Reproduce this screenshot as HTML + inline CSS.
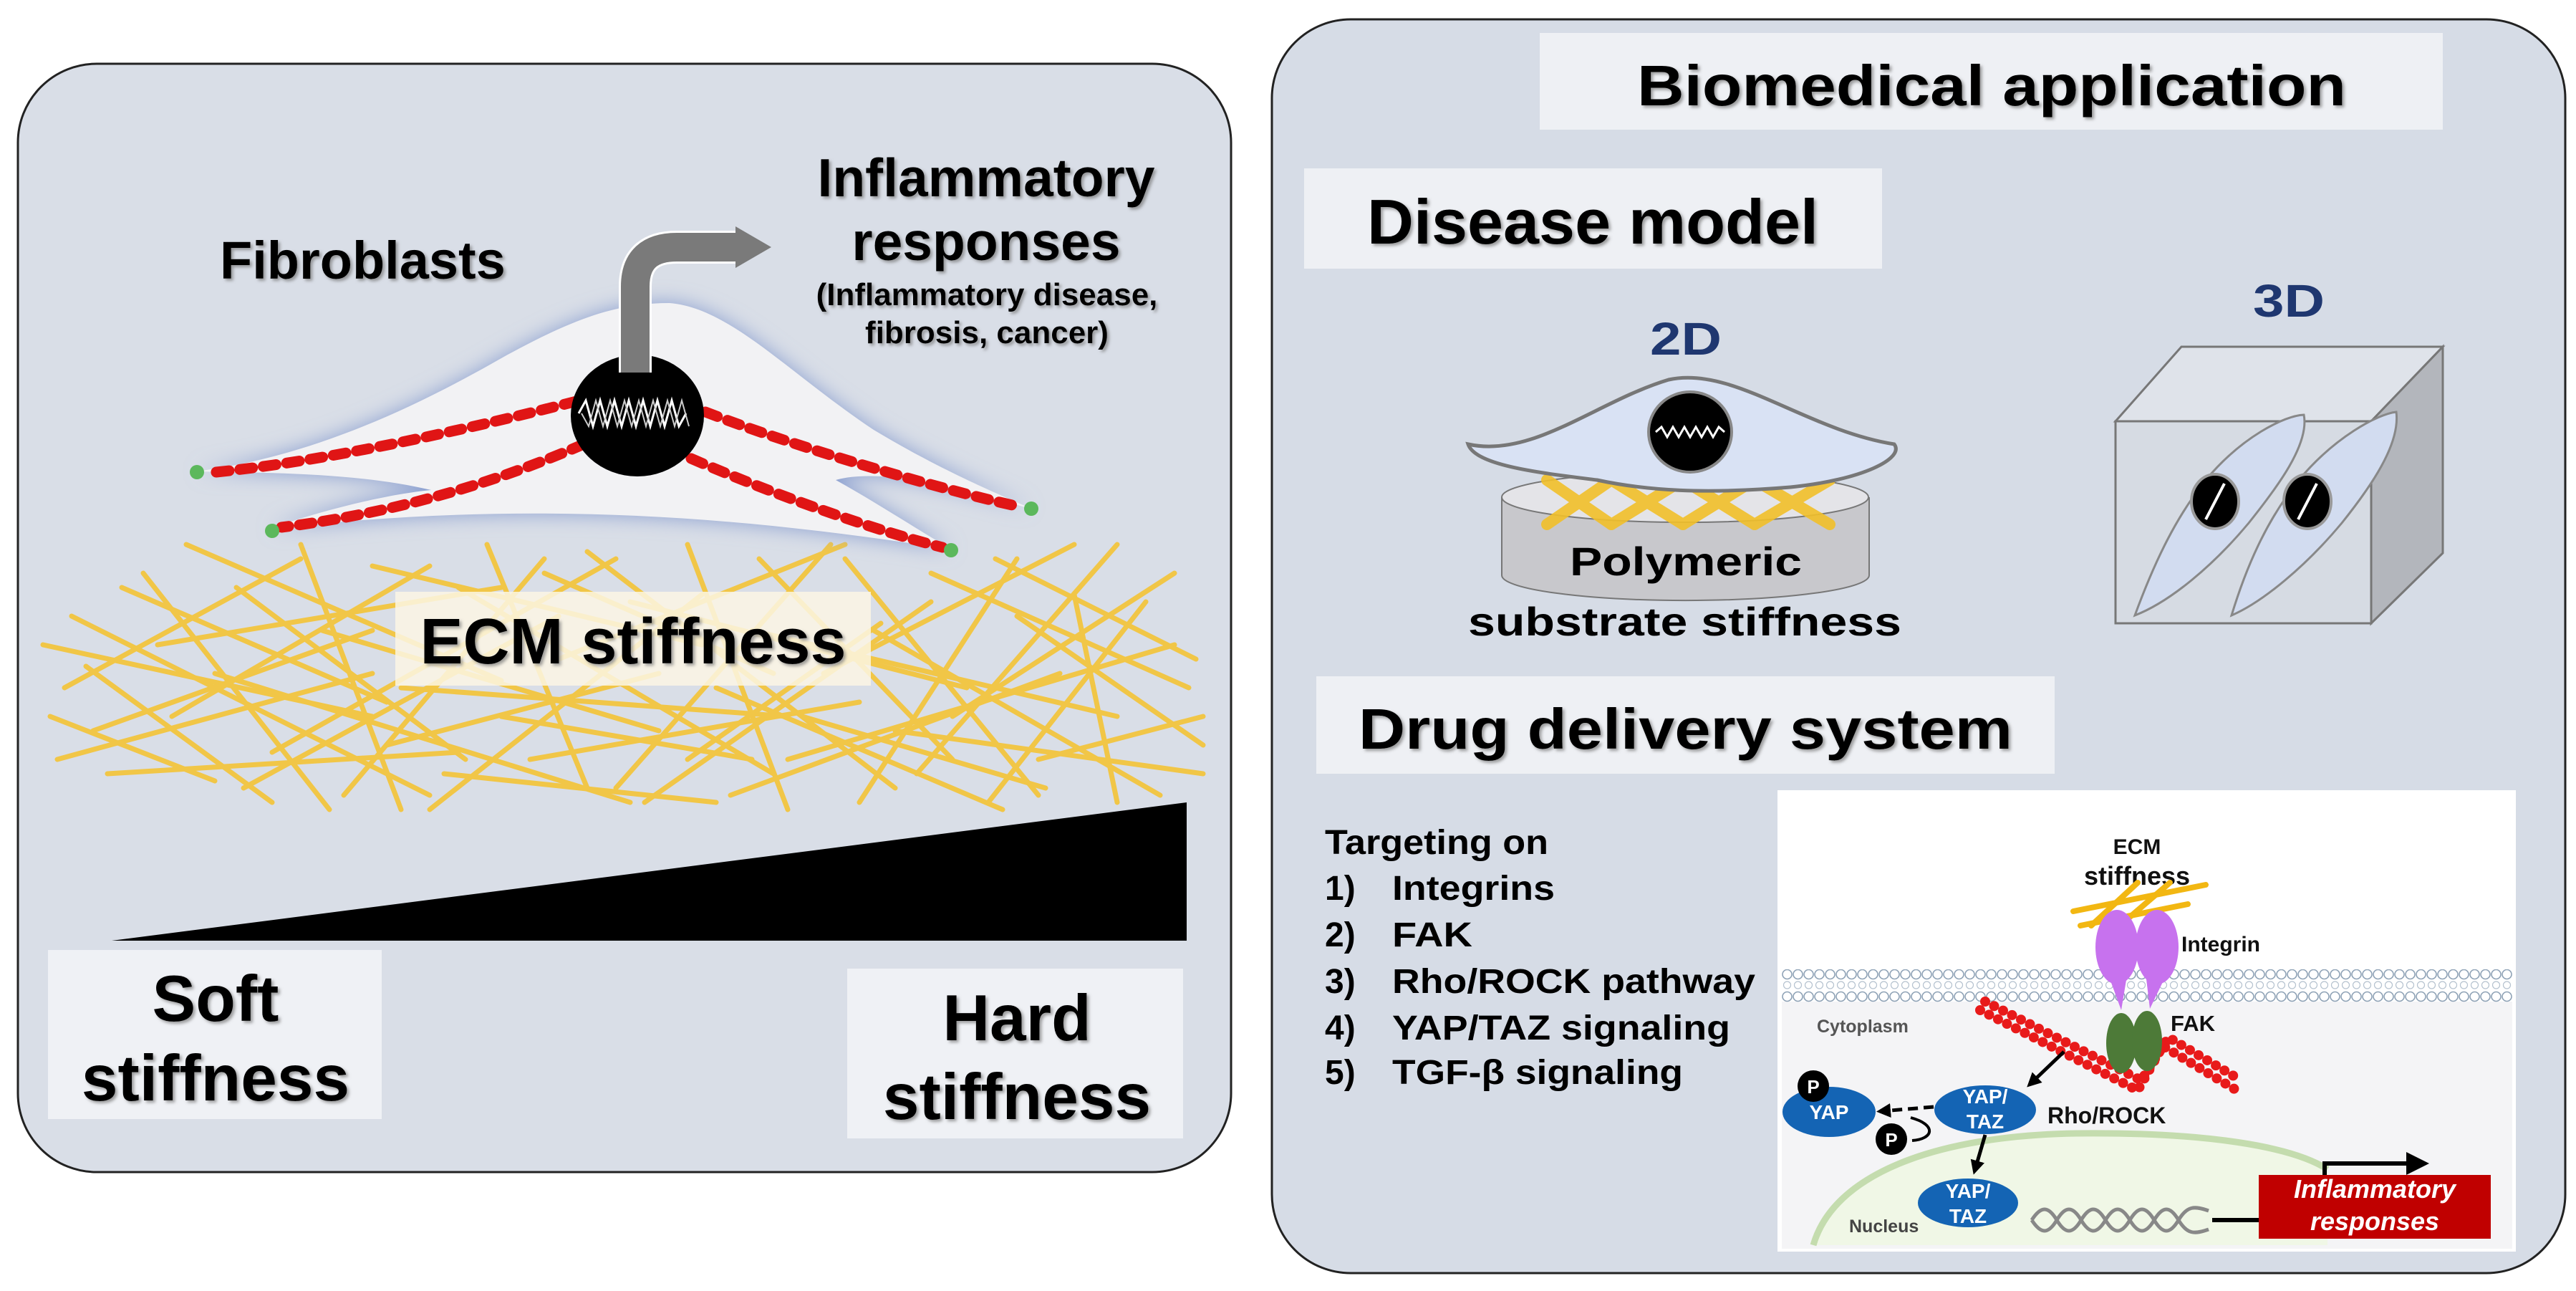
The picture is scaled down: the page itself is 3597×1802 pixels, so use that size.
<!DOCTYPE html>
<html><head><meta charset="utf-8"><style>
html,body{margin:0;padding:0;background:#fff}
svg{display:block}
text{font-family:"Liberation Sans",Arial,sans-serif}
</style></head><body>
<svg width="3597" height="1802" viewBox="0 0 3597 1802" xmlns="http://www.w3.org/2000/svg">
<defs>
<filter id="glow" x="-20%" y="-40%" width="140%" height="180%"><feGaussianBlur stdDeviation="14"/></filter>
<filter id="ts" x="-5%" y="-10%" width="110%" height="130%"><feDropShadow dx="3" dy="3" stdDeviation="2" flood-color="#777" flood-opacity="0.7"/></filter>
<pattern id="mem" x="2488" y="1353" width="15" height="46" patternUnits="userSpaceOnUse">
<circle cx="7.5" cy="7" r="6.5" fill="#fff" stroke="#8ea2b6" stroke-width="1.6"/>
<circle cx="7.5" cy="22" r="5" fill="#fff" stroke="#b5c2cf" stroke-width="1.2"/>
<circle cx="7.5" cy="38" r="6.5" fill="#fff" stroke="#8ea2b6" stroke-width="1.6"/>
</pattern>
<marker id="ah" viewBox="0 0 10 10" refX="6" refY="5" markerWidth="4" markerHeight="4" orient="auto"><path d="M0,0L10,5L0,10z" fill="#000"/></marker>
</defs>

<!-- LEFT PANEL -->
<rect x="25" y="89" width="1694" height="1547" rx="110" fill="#d9dee7" stroke="#222" stroke-width="3"/>

<!-- fibers -->
<g stroke="#f6c22c" stroke-width="7" stroke-linecap="round" opacity="0.85">
<line x1="60" y1="900" x2="520" y2="1000"/><line x1="100" y1="860" x2="600" y2="1110"/>
<line x1="130" y1="1020" x2="520" y2="880"/><line x1="200" y1="800" x2="460" y2="1130"/>
<line x1="90" y1="960" x2="420" y2="780"/><line x1="260" y1="760" x2="700" y2="950"/>
<line x1="340" y1="1100" x2="780" y2="860"/><line x1="420" y1="760" x2="560" y2="1130"/>
<line x1="150" y1="1080" x2="640" y2="1050"/><line x1="300" y1="940" x2="880" y2="1120"/>
<line x1="520" y1="790" x2="980" y2="900"/><line x1="600" y1="1130" x2="980" y2="830"/>
<line x1="680" y1="760" x2="820" y2="1100"/><line x1="740" y1="1060" x2="1200" y2="980"/>
<line x1="820" y1="770" x2="1250" y2="1100"/><line x1="900" y1="1120" x2="1300" y2="840"/>
<line x1="960" y1="760" x2="1100" y2="1130"/><line x1="1050" y1="880" x2="1560" y2="1000"/>
<line x1="1100" y1="1060" x2="1640" y2="900"/><line x1="1180" y1="780" x2="1450" y2="1110"/>
<line x1="1250" y1="1020" x2="1680" y2="1080"/><line x1="1300" y1="800" x2="1660" y2="960"/>
<line x1="1380" y1="1120" x2="1600" y2="840"/><line x1="1420" y1="860" x2="1680" y2="1040"/>
<line x1="1500" y1="830" x2="1560" y2="1120"/><line x1="1150" y1="940" x2="1500" y2="760"/>
<line x1="560" y1="960" x2="1100" y2="1000"/><line x1="450" y1="880" x2="920" y2="1020"/>
<line x1="780" y1="920" x2="1180" y2="760"/><line x1="380" y1="1050" x2="860" y2="780"/>
<line x1="620" y1="1080" x2="1000" y2="1120"/><line x1="1000" y1="960" x2="1400" y2="1130"/>
<line x1="220" y1="900" x2="700" y2="820"/><line x1="1200" y1="1120" x2="1420" y2="780"/>
<line x1="880" y1="840" x2="1350" y2="960"/><line x1="1330" y1="1000" x2="1640" y2="800"/>
<line x1="70" y1="1000" x2="300" y2="1090"/><line x1="1450" y1="1060" x2="1680" y2="1000"/>
<line x1="700" y1="1000" x2="1050" y2="1060"/><line x1="960" y1="1060" x2="1230" y2="870"/>
<line x1="120" y1="930" x2="380" y2="1120"/><line x1="240" y1="1000" x2="600" y2="790"/>
<line x1="330" y1="820" x2="650" y2="1060"/><line x1="480" y1="1110" x2="760" y2="780"/>
<line x1="640" y1="820" x2="1080" y2="1080"/><line x1="860" y1="1100" x2="1160" y2="760"/>
<line x1="1060" y1="780" x2="1330" y2="1060"/><line x1="1220" y1="880" x2="1620" y2="1110"/>
<line x1="1280" y1="1080" x2="1560" y2="760"/><line x1="1390" y1="780" x2="1670" y2="920"/>
<line x1="80" y1="1060" x2="520" y2="940"/><line x1="540" y1="1040" x2="920" y2="940"/>
<line x1="1020" y1="1110" x2="1480" y2="940"/><line x1="170" y1="820" x2="540" y2="980"/>
<line x1="760" y1="800" x2="1080" y2="940"/><line x1="1120" y1="1000" x2="1460" y2="1100"/>
</g>

<!-- wedge -->
<polygon points="156,1313 1657,1120 1657,1313" fill="#000"/>

<!-- cell -->
<path id="cellp" d="M273,658 C420,640 560,580 700,500 C800,445 860,423 935,423 C1020,430 1100,520 1220,600 C1320,660 1400,692 1440,710 C1360,690 1240,650 1167,670 C1230,705 1290,745 1329,767 C1000,715 720,700 377,738 C450,712 540,690 602,684 C500,660 380,660 273,658 Z" fill="#8a9fd0" filter="url(#glow)"/>
<path d="M273,658 C420,640 560,580 700,500 C800,445 860,423 935,423 C1020,430 1100,520 1220,600 C1320,660 1400,692 1440,710 C1360,690 1240,650 1167,670 C1230,705 1290,745 1329,767 C1000,715 720,700 377,738 C450,712 540,690 602,684 C500,660 380,660 273,658 Z" fill="#f2f2f4"/>
<g stroke="#e01515" stroke-width="15" stroke-dasharray="18 15" stroke-linecap="round" fill="none">
<path d="M805,560 C650,600 450,645 292,660"/><path d="M815,620 C700,670 560,715 393,736"/>
<path d="M985,575 C1100,620 1300,680 1422,707"/><path d="M965,640 C1080,690 1220,740 1316,764"/>
</g>
<g fill="#5cb85c"><circle cx="275" cy="659" r="10"/><circle cx="380" cy="741" r="10"/><circle cx="1440" cy="710" r="10"/><circle cx="1328" cy="768" r="10"/></g>
<ellipse cx="890" cy="580" rx="93" ry="85" fill="#000"/>
<path d="M808,577 l10,-18 10,36 10,-36 10,36 10,-36 10,36 10,-36 10,36 10,-36 10,36 10,-36 10,36 10,-36 10,36 10,-18" stroke="#fff" stroke-width="3" fill="none"/>
<path d="M812,577 l10,18 10,-36 10,36 10,-36 10,36 10,-36 10,36 10,-36 10,36 10,-36 10,36 10,-36 10,36 10,-36 10,36" stroke="#ccc" stroke-width="2" fill="none"/>
<!-- grey arrow -->
<path d="M887,520 L887,400 Q887,345 945,345 L1035,345" stroke="#fff" stroke-width="46" fill="none"/>
<path d="M887,520 L887,400 Q887,345 945,345 L1035,345" stroke="#7a7a7a" stroke-width="40" fill="none"/>
<polygon points="1027,316 1077,345 1027,374" fill="#7a7a7a"/>

<g font-weight="bold" fill="#000" filter="url(#ts)">
<text x="307" y="389" font-size="74">Fibroblasts</text>
<text x="1377" y="274" font-size="75" text-anchor="middle">Inflammatory</text>
<text x="1377" y="363" font-size="75" text-anchor="middle">responses</text>
<text x="1378" y="426" font-size="44" text-anchor="middle">(Inflammatory disease,</text>
<text x="1378" y="479" font-size="44" text-anchor="middle">fibrosis, cancer)</text>
</g>
<rect x="552" y="826" width="664" height="131" fill="#fbf6e4" opacity="0.85"/>
<text x="884" y="926" font-size="90" font-weight="bold" text-anchor="middle" filter="url(#ts)">ECM stiffness</text>
<rect x="67" y="1326" width="466" height="236" fill="#eff1f5"/>
<rect x="1183" y="1352" width="469" height="237" fill="#eff1f5"/>
<g font-size="91" font-weight="bold" text-anchor="middle" filter="url(#ts)">
<text x="301" y="1425">Soft</text><text x="301" y="1536">stiffness</text>
<text x="1420" y="1452">Hard</text><text x="1420" y="1562">stiffness</text>
</g>

<!-- RIGHT PANEL -->
<rect x="1776" y="27" width="1806" height="1750" rx="110" fill="#d6dce6" stroke="#222" stroke-width="3"/>
<rect x="2150" y="46" width="1261" height="135" fill="#eef0f4"/>
<text x="2286" y="147" font-size="80" font-weight="bold" textLength="990" lengthAdjust="spacingAndGlyphs" filter="url(#ts)">Biomedical application</text>
<rect x="1821" y="235" width="807" height="140" fill="#eef0f4"/>
<text x="1909" y="340" font-size="88" font-weight="bold" textLength="630" lengthAdjust="spacingAndGlyphs" filter="url(#ts)">Disease model</text>
<text x="2304" y="495" font-size="64" font-weight="bold" fill="#1f3770" textLength="100" lengthAdjust="spacingAndGlyphs">2D</text>
<text x="3146" y="442" font-size="64" font-weight="bold" fill="#1f3770" textLength="100" lengthAdjust="spacingAndGlyphs">3D</text>

<!-- disc -->
<path d="M2097,694 L2097,803 A256,35 0 0 0 2610,803 L2610,694" fill="#c8c8cc" stroke="#777" stroke-width="2"/>
<ellipse cx="2353" cy="694" rx="256" ry="35" fill="#e4e4e8" stroke="#777" stroke-width="2"/>
<g stroke="#f2c02a" stroke-width="16" stroke-linecap="round" opacity="0.9">
<line x1="2160" y1="670" x2="2250" y2="732"/><line x1="2160" y1="732" x2="2250" y2="670"/>
<line x1="2250" y1="670" x2="2350" y2="732"/><line x1="2250" y1="732" x2="2350" y2="670"/>
<line x1="2350" y1="670" x2="2450" y2="732"/><line x1="2350" y1="732" x2="2450" y2="670"/>
<line x1="2450" y1="670" x2="2555" y2="732"/><line x1="2450" y1="732" x2="2555" y2="670"/>
</g>
<!-- 2D cell -->
<path d="M2050,620 C2140,640 2230,560 2330,530 C2420,510 2520,600 2645,620 C2660,640 2600,670 2500,680 C2380,690 2300,685 2230,670 C2150,660 2060,650 2050,620 Z" fill="#d9e2f4" stroke="#777" stroke-width="5"/>
<ellipse cx="2360" cy="603" rx="58" ry="56" fill="#000" stroke="#888" stroke-width="4"/>
<path d="M2312,603 l8,-7 8,14 8,-14 8,14 8,-14 8,14 8,-14 8,14 8,-14 8,14 8,-14 8,7" stroke="#fff" stroke-width="3" fill="none"/>
<text x="2192" y="803" font-size="56" font-weight="bold" textLength="324" lengthAdjust="spacingAndGlyphs">Polymeric</text>
<text x="2050" y="887" font-size="56" textLength="605" lengthAdjust="spacingAndGlyphs" font-weight="bold">substrate stiffness</text>

<!-- cube -->
<polygon points="2954,588 3046,484 3411,484 3311,588" fill="#dfe3ea" stroke="#777" stroke-width="3"/>
<polygon points="3311,588 3411,484 3411,772 3311,870" fill="#b3b6bc" stroke="#777" stroke-width="3"/>
<rect x="2954" y="588" width="357" height="282" fill="#d6dbe3" stroke="#777" stroke-width="3"/>
<path d="M2981,859 C3010,780 3040,720 3080,670 C3130,610 3190,580 3217,579 C3225,620 3180,680 3140,730 C3090,790 3030,840 2981,859 Z" fill="#d2dcf0" stroke="#888" stroke-width="3"/>
<path d="M3116,859 C3140,780 3170,720 3210,670 C3260,610 3320,578 3346,575 C3352,620 3310,680 3270,730 C3220,790 3160,840 3116,859 Z" fill="#d2dcf0" stroke="#888" stroke-width="3"/>
<ellipse cx="3093" cy="700" rx="33" ry="38" fill="#000" stroke="#999" stroke-width="4"/>
<ellipse cx="3222" cy="700" rx="33" ry="38" fill="#000" stroke="#999" stroke-width="4"/>
<line x1="3080" y1="725" x2="3106" y2="675" stroke="#fff" stroke-width="4"/>
<line x1="3209" y1="725" x2="3235" y2="675" stroke="#fff" stroke-width="4"/>

<!-- drug delivery -->
<rect x="1838" y="944" width="1031" height="136" fill="#eef0f4"/>
<text x="1897" y="1045" font-size="80" font-weight="bold" textLength="913" lengthAdjust="spacingAndGlyphs" filter="url(#ts)">Drug delivery system</text>
<g font-size="48" font-weight="bold">
<text x="1850" y="1192" textLength="312" lengthAdjust="spacingAndGlyphs">Targeting on</text>
<text x="1850" y="1256">1)</text><text x="1944" y="1256" textLength="227" lengthAdjust="spacingAndGlyphs">Integrins</text>
<text x="1850" y="1321">2)</text><text x="1944" y="1321" textLength="112" lengthAdjust="spacingAndGlyphs">FAK</text>
<text x="1850" y="1386">3)</text><text x="1944" y="1386" textLength="507" lengthAdjust="spacingAndGlyphs">Rho/ROCK pathway</text>
<text x="1850" y="1451">4)</text><text x="1944" y="1451" textLength="472" lengthAdjust="spacingAndGlyphs">YAP/TAZ signaling</text>
<text x="1850" y="1513">5)</text><text x="1944" y="1513" textLength="406" lengthAdjust="spacingAndGlyphs">TGF-β signaling</text>
</g>

<!-- inset -->
<rect x="2482" y="1103" width="1031" height="644" fill="#fff"/>
<rect x="2488" y="1398" width="1020" height="345" fill="#f4f4f6"/>
<path d="M2532,1738 C2560,1640 2700,1585 2900,1582 C3080,1580 3200,1600 3250,1632 L3250,1738 Z" fill="#f0f7e6"/>
<path d="M2532,1738 C2560,1640 2700,1585 2900,1582 C3080,1580 3200,1600 3250,1632" stroke="#c4dcae" stroke-width="9" fill="none"/>
<rect x="2488" y="1353" width="1020" height="46" fill="url(#mem)"/>
<g font-weight="bold" fill="#111">
<text x="2984" y="1192" font-size="30" text-anchor="middle">ECM</text>
<text x="2984" y="1235" font-size="36" text-anchor="middle">stiffness</text>
<text x="3046" y="1328" font-size="30">Integrin</text>
<text x="3031" y="1439" font-size="31">FAK</text>
<text x="2537" y="1441" font-size="25" fill="#555">Cytoplasm</text>
<text x="2582" y="1720" font-size="25" fill="#444">Nucleus</text>
<text x="2859" y="1568" font-size="32">Rho/ROCK</text>
</g>
<g stroke="#f2b712" stroke-width="8" stroke-linecap="round">
<line x1="2895" y1="1272" x2="3080" y2="1235"/><line x1="2905" y1="1292" x2="3055" y2="1262"/>
<line x1="2920" y1="1292" x2="2985" y2="1232"/><line x1="2960" y1="1292" x2="3030" y2="1232"/>
</g>
<ellipse cx="2956" cy="1322" rx="30" ry="52" fill="#c772ee"/>
<ellipse cx="3012" cy="1322" rx="30" ry="52" fill="#c772ee"/>
<path d="M2940,1350 L2962,1410 L2972,1350 Z M2995,1350 L3002,1408 L3030,1350 Z" fill="#c772ee"/>
<g stroke="#e81a1a" stroke-width="14" stroke-linecap="round" stroke-dasharray="0 14" fill="none">
<path d="M2765,1410 L2985,1522 L3020,1460 L3120,1520"/>
<path d="M2772,1398 L2990,1508 L3028,1448 L3126,1506"/>
</g>
<ellipse cx="2962" cy="1456" rx="21" ry="42" fill="#4d7a38"/>
<ellipse cx="2998" cy="1453" rx="21" ry="42" fill="#4d7a38"/>
<line x1="2882" y1="1468" x2="2836" y2="1512" stroke="#000" stroke-width="5" marker-end="url(#ah)"/>
<ellipse cx="2772" cy="1549" rx="71" ry="34" fill="#1464b4"/>
<ellipse cx="2554" cy="1552" rx="65" ry="35" fill="#1464b4"/>
<ellipse cx="2748" cy="1679" rx="70" ry="34" fill="#1464b4"/>
<g fill="#fff" font-weight="bold" font-size="28" text-anchor="middle">
<text x="2772" y="1540">YAP/</text><text x="2772" y="1575">TAZ</text>
<text x="2554" y="1562">YAP</text>
<text x="2748" y="1672">YAP/</text><text x="2748" y="1707">TAZ</text>
</g>
<line x1="2700" y1="1545" x2="2628" y2="1551" stroke="#000" stroke-width="5" stroke-dasharray="14 8" marker-end="url(#ah)"/>
<path d="M2670,1592 C2700,1590 2705,1570 2668,1560" stroke="#000" stroke-width="4" fill="none"/>
<line x1="2772" y1="1584" x2="2758" y2="1632" stroke="#000" stroke-width="5" marker-end="url(#ah)"/>
<circle cx="2532" cy="1516" r="22" fill="#000"/><circle cx="2641" cy="1590" r="22" fill="#000"/>
<text x="2532" y="1526" fill="#fff" font-size="26" font-weight="bold" text-anchor="middle">P</text>
<text x="2641" y="1600" fill="#fff" font-size="26" font-weight="bold" text-anchor="middle">P</text>
<path d="M2837,1703 C2850,1683 2860,1683 2872,1703 S2894,1723 2906,1703 S2928,1683 2940,1703 S2962,1723 2974,1703 S2996,1683 3008,1703 S3030,1723 3042,1703 S3064,1683 3084,1690" stroke="#888" stroke-width="5" fill="none"/>
<path d="M2837,1703 C2850,1723 2860,1723 2872,1703 S2894,1683 2906,1703 S2928,1723 2940,1703 S2962,1683 2974,1703 S2996,1723 3008,1703 S3030,1683 3042,1703 S3064,1723 3084,1716" stroke="#888" stroke-width="5" fill="none"/>
<line x1="3089" y1="1703" x2="3154" y2="1703" stroke="#000" stroke-width="6"/>
<rect x="3154" y="1640" width="324" height="89" fill="#c00000"/>
<g fill="#fff" font-weight="bold" font-style="italic" font-size="36" text-anchor="middle">
<text x="3316" y="1672">Inflammatory</text><text x="3316" y="1717">responses</text>
</g>
<path d="M3246,1640 L3246,1624 L3365,1624" stroke="#000" stroke-width="6" fill="none"/>
<polygon points="3360,1608 3392,1624 3360,1640" fill="#000"/>
</svg>
</body></html>
